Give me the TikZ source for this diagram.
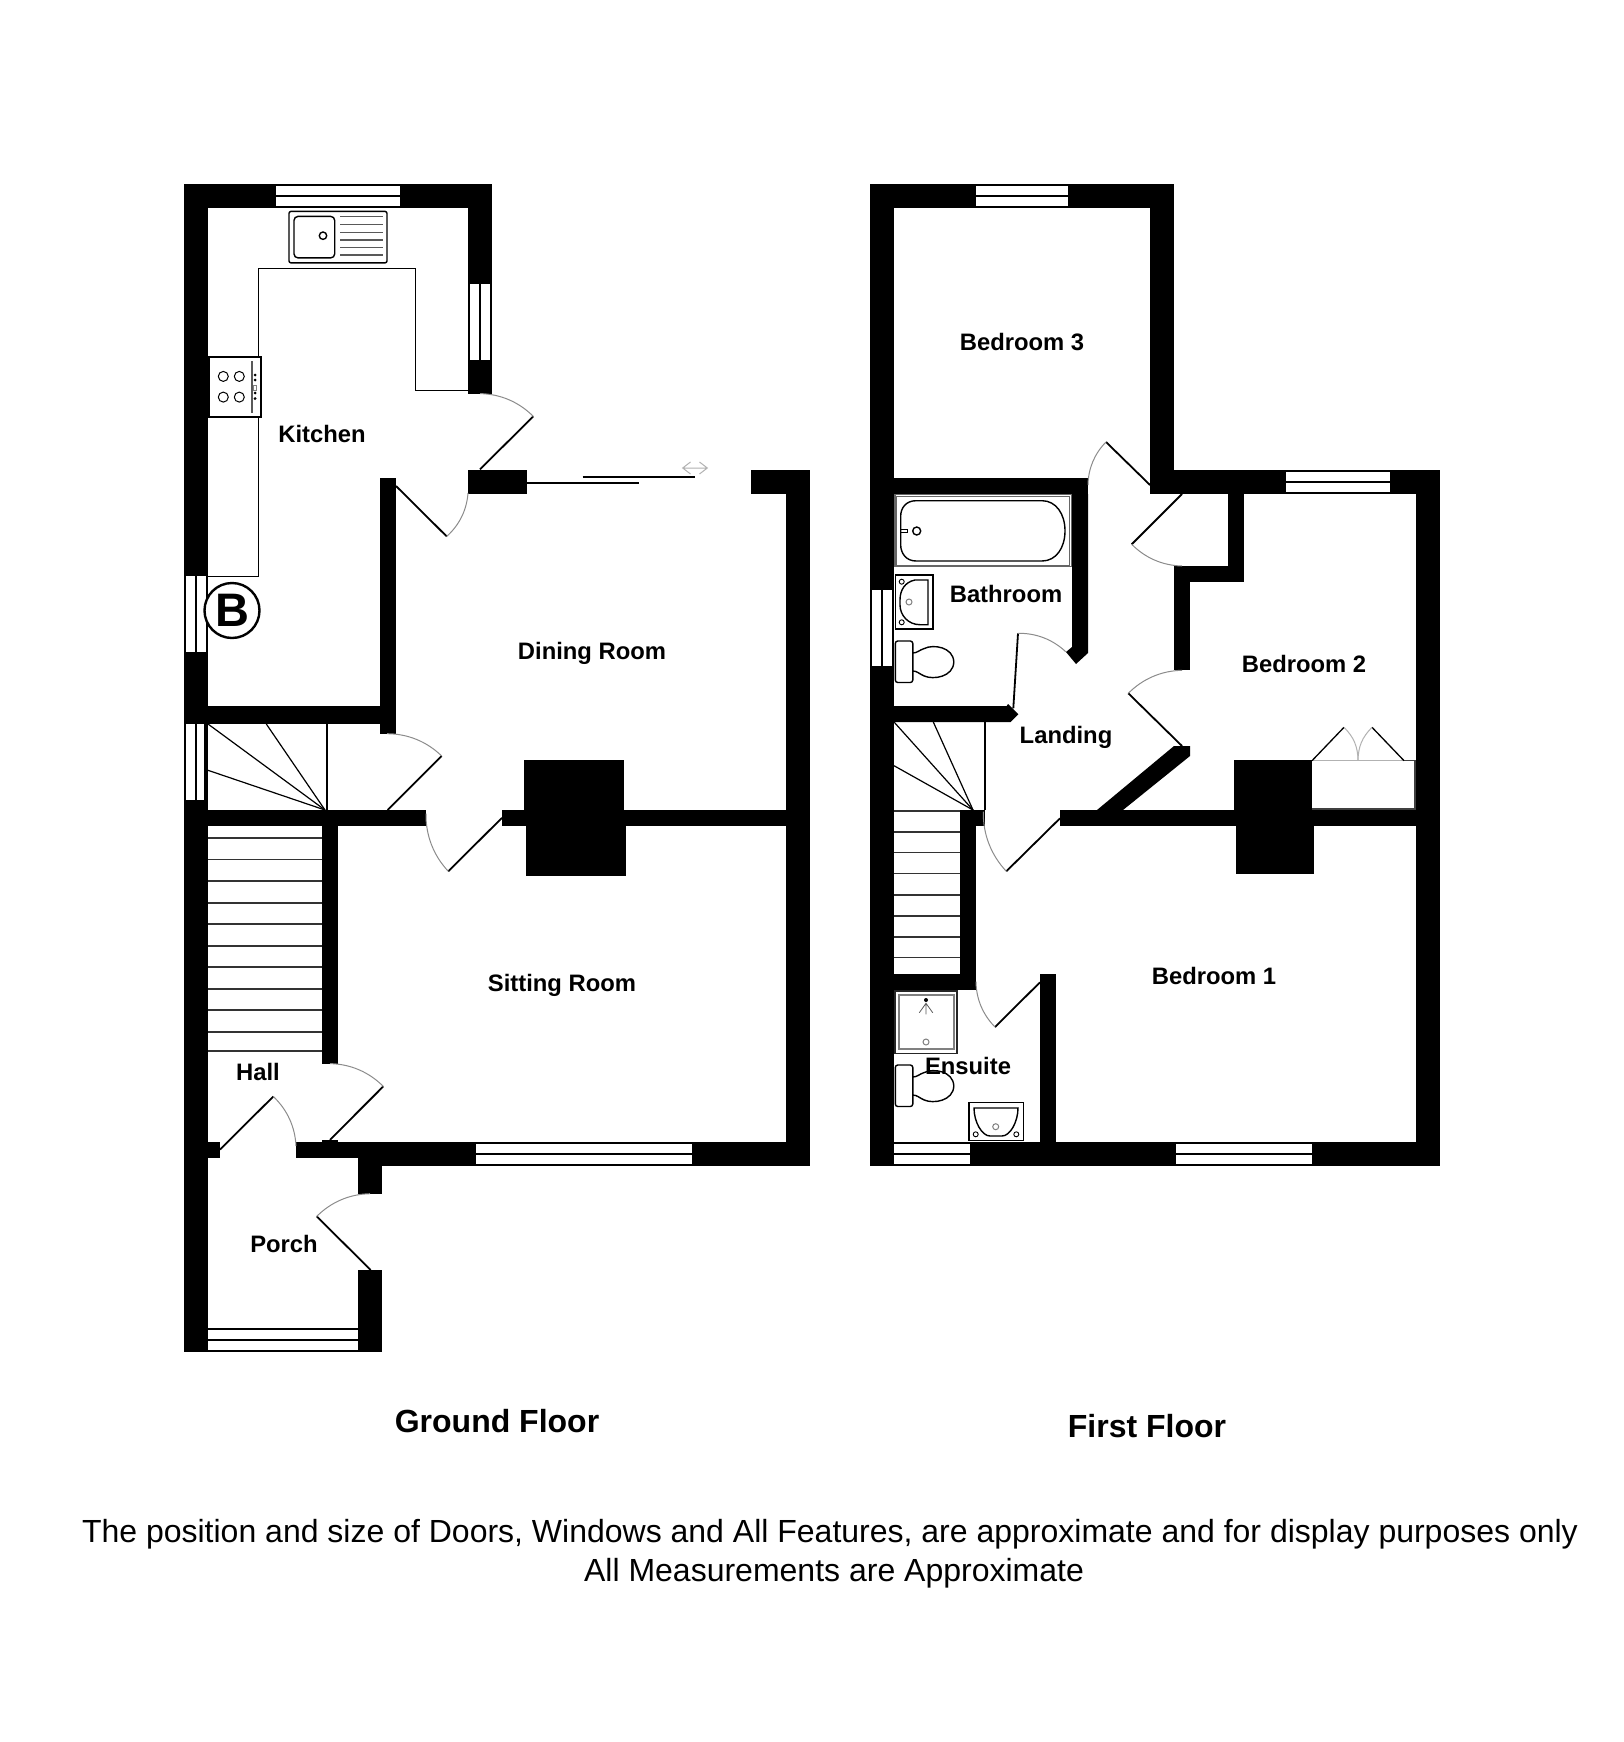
\documentclass[tikz,border=0pt]{standalone}
\usepackage{fontspec}
\setmainfont{Liberation Sans}
\usetikzlibrary{arrows.meta}
\tikzset{
  wallfill/.style={fill=black,draw=none},
  glass/.style={fill=white,draw=none},
  leaf/.style={draw=black,line width=1.8pt},
  swing/.style={draw=black!45,line width=1pt,looseness=.9},
  fixture/.style={draw=black,line width=1.4pt},
  fixturegrey/.style={draw=black!65,line width=1.2pt},
  fixturelight/.style={draw=black!50,line width=1pt},
  stairline/.style={draw=black!80,line width=1.3pt},
  roomlabel/.style={font=\bfseries\fontsize{23.8}{28}\selectfont,inner sep=0pt},
  floorlabel/.style={font=\bfseries\fontsize{32}{38}\selectfont,inner sep=0pt},
  notelabel/.style={font=\fontsize{32}{38}\selectfont,inner sep=0pt},
}
\newcommand{\wl}[4]{\fill[wallfill] (#1,#2) rectangle (#3,#4);}
\newcommand{\gl}[4]{\fill[glass] (#1,#2) rectangle (#3,#4);}
\newcommand{\hwin}[4]{\gl{#1}{#3}{#2}{#3+9.2}\gl{#1}{#3+11.2}{#2}{#4}}
\newcommand{\vwin}[4]{\gl{#1}{#3}{#1+9.2}{#4}\gl{#1+11}{#3}{#2}{#4}}
% hinge, tip, swing end, bend side
\newcommand{\doorleaf}[4]{\draw[leaf] (#1) -- (#2); \draw[swing] (#2) to[#4=22] (#3);}
\newcommand{\wcpan}[2]{%
  \begin{scope}[shift={(#1,#2)}]
    \draw[fixture,rounded corners=2.5pt,fill=white] (0,0) rectangle (17.5,41.5);
    \draw[fixture] (17.5,12) .. controls (22,12) and (24,9) .. (29,7.5)
       .. controls (38,3) and (58,6) .. (58.5,21)
       .. controls (58,36) and (38,39) .. (29,35)
       .. controls (24,33) and (22,30) .. (17.5,30);
  \end{scope}}
\begin{document}
\begin{tikzpicture}[x=1pt,y=-1pt]
\useasboundingbox (0,0) rectangle (1624,1742);
\fill[white] (0,0) rectangle (1624,1742);

%% ---------- GROUND FLOOR walls
\wl{184}{184.3}{492}{207.9}
\wl{184}{184.3}{208}{1352}
\wl{468}{184.3}{492}{393.6}
\wl{208}{706}{395.7}{724}
\wl{380}{478}{395.7}{733.7}
\wl{468}{470}{527}{493.6}
\wl{750.7}{470}{810}{494}
\wl{786}{470}{810}{1165.5}
\wl{208}{810}{426}{826}
\wl{502}{810}{810}{826}
\wl{524}{760}{624}{811}
\wl{526}{825}{626}{876}
\wl{322}{810}{337.7}{1063.6}
\wl{322}{1139.8}{337.7}{1143}
\wl{208}{1142}{220}{1157.5}
\wl{296}{1142}{358}{1157.5}
\wl{358}{1142}{810}{1165.5}
\wl{358}{1142}{382}{1193.7}
\wl{358}{1270}{382}{1352}
\wl{208}{1327.5}{358}{1352}

%% ground windows
\hwin{276}{400}{185.7}{206.4}
\vwin{470}{490}{283.6}{360}
\vwin{186}{206}{575.7}{652}
\vwin{186}{204}{724}{800}
\hwin{476}{692}{1143.6}{1164.3}
\hwin{208}{358}{1329.8}{1350.4}

%% ground stairs
\foreach \yy in {838,859.5,881,903,924,946,967,989,1010,1032,1051}{\draw[stairline] (208,\yy) -- (322,\yy);}
\draw[fixture,line width=2pt] (326.7,724) -- (326.7,810);
\draw[fixture,line width=1.2pt] (325,810) -- (208,724);
\draw[fixture,line width=1.2pt] (325,810) -- (266.3,724);
\draw[fixture,line width=1.2pt] (325,810) -- (208,770.3);

%% ground doors
\doorleaf{480,469.3}{533.3,416.4}{480,393.6}{bend right}
\doorleaf{396,486}{446.7,536.4}{468,493}{bend right}
\doorleaf{387.7,810}{441.7,756}{387,733.7}{bend right}
\doorleaf{502,817.8}{448.3,871.3}{426,813.6}{bend left}
\doorleaf{330,1139.8}{383.3,1086.4}{330,1063.6}{bend right}
\doorleaf{220,1149.5}{273.3,1096.5}{296,1146}{bend left}
\doorleaf{370.7,1270}{316.7,1216.4}{370,1193.7}{bend left}

%% sliding door
\draw[leaf] (527,483) -- (639,483);
\draw[leaf] (582.7,476.7) -- (695,476.7);
\draw[draw=black!30,line width=1pt] (682.7,468) -- (707.3,468)
  (690.5,462) -- (682.7,468) -- (690.5,474) (699.5,462) -- (707.3,468) -- (699.5,474);

%% kitchen units
\draw[fixture] (468,390.7) -- (415.3,390.7) -- (415.3,268.6) -- (258.7,268.6) -- (258.7,576.4) -- (208,576.4);
\draw[fixture,rounded corners=2pt,fill=white] (289,211.4) rectangle (387,262.9);
\draw[fixture,rounded corners=4pt] (294,216.4) rectangle (334.7,257.9);
\draw[fixture] (323,235.7) circle (3.7);
\foreach \yy in {216.4,224.3,232.1,240,247.5,255}{\draw[fixturegrey] (340.3,\yy) -- (383,\yy);}
\draw[fixture,fill=white] (209,356.8) rectangle (261,416.8);
\foreach \xx/\yy in {223.3/376.4,239.3/376.4,223.3/397.1,239.3/397.1}{\draw[fixture,line width=1pt] (\xx,\yy) circle (5);}
\draw[fixturegrey] (252,361) -- (252,412.9);
\foreach \yy in {375,380,393,398.5}{\fill (255,\yy) circle (1.5);}
\draw[fixturelight] (253.5,385) rectangle (256.5,390);

%% boiler
\node[draw=black,line width=2.4pt,fill=white,circle,minimum size=55pt,inner sep=0pt,font=\bfseries\fontsize{47}{50}\selectfont] (boiler) at (232,610.5) {B};

%% ---------- FIRST FLOOR walls
\wl{870}{184.4}{1174}{207.7}
\wl{870}{184.4}{894}{1166}
\wl{1150}{184.4}{1174}{494}
\wl{1150}{470}{1440}{494}
\wl{1416}{470}{1440}{1166}
\wl{1228}{494}{1244}{582}
\wl{1174}{566}{1244}{582}
\wl{1174}{566}{1190}{670.3}
\fill[wallfill] (1174,746) -- (1190,746) -- (1190,756) -- (1123,810) -- (1097,810) -- cycle;
\wl{1060}{810}{1416}{826}
\wl{1234}{760}{1312}{811}
\wl{1236}{825}{1314}{874}
\wl{894}{478}{1088}{494}
\fill[wallfill] (1072,494) -- (1088,494) -- (1088,653) -- (1076,664) -- (1066,652) -- (1072,647) -- cycle;
\fill[wallfill] (894,706) -- (1006.7,706) -- (1008,704) -- (1018.3,714.3) -- (1010.7,722) -- (894,722) -- cycle;
\wl{960}{810}{976}{990}
\wl{960}{810}{985}{826}
\wl{894}{974}{976}{990}
\wl{1040}{974}{1056}{1143}
\wl{870}{1142}{1440}{1166}

%% first windows
\hwin{976}{1068}{186}{206.4}
\hwin{1286}{1390}{472}{492}
\vwin{872}{892}{590}{666}
\hwin{894}{970}{1144}{1164}
\hwin{1176}{1312}{1144}{1164}

%% first stairs
\foreach \yy in {811,832,852.7,873.7,895,916,937,957.7}{\draw[stairline] (894,\yy) -- (960,\yy);}
\draw[fixture,line width=2pt] (985,722) -- (985,810);
\draw[draw=black,line width=1.2pt] (973,810) -- (894,722);
\draw[draw=black,line width=1.2pt] (973,810) -- (933.3,722);
\draw[draw=black,line width=1.2pt] (973,810) -- (894,765.7);

%% first doors
\doorleaf{1150,485}{1106,442}{1088,485}{bend right}
\doorleaf{1182,494}{1131.7,544.3}{1182,566}{bend right}
\doorleaf{1182,746}{1128.3,693.3}{1182,670.3}{bend left}
\doorleaf{1013.3,708.3}{1018,633.3}{1065.7,651.7}{bend left}
\doorleaf{1060,818.3}{1006.3,871.3}{983.3,811.7}{bend left}
\doorleaf{1040,982.3}{995,1027}{976,981.7}{bend left}

%% wardrobe
\draw[draw=black!75,line width=1.4pt] (1404,760.7) -- (1415,760.7) -- (1415,809) -- (1312,809);
\draw[draw=black!30,line width=1.4pt] (1312,760.7) -- (1404,760.7);
\draw[draw=black,line width=1.3pt] (1312,760.7) -- (1344,727.3);
\draw[draw=black,line width=1.3pt] (1404,760.7) -- (1372,727.3);
\draw[draw=black!30,line width=1pt] (1344,727.3) to[bend left=22] (1358,760.7);
\draw[draw=black!30,line width=1pt] (1372,727.3) to[bend right=22] (1358,760.7);

%% bath
\draw[draw=black!60,line width=1.2pt] (895,494.7) rectangle (1071.3,566.7);
\draw[draw=black!60,line width=1pt] (896.5,496.2) rectangle (1069.8,565.2);
\draw[fixture] (916,500.7) -- (1042,500.7) .. controls (1056,500.7) and (1065,514) .. (1065,530.8)
  .. controls (1065,548) and (1056,561) .. (1042,561) -- (916,561)
  .. controls (906,561) and (900.7,553) .. (900.7,545) -- (900.7,516)
  .. controls (900.7,508) and (906,500.7) .. (916,500.7) -- cycle;
\draw[fixture] (916.7,531) circle (4);
\draw[fixture,line width=.8pt] (900.7,529.5) rectangle (907,532.5);

%% bathroom basin
\draw[fixture] (895.3,575) rectangle (933,629);
\draw[fixture] (928,580) -- (915,580) .. controls (905,582) and (900,590) .. (900,600)
  -- (900,605) .. controls (900,615) and (908,624.7) .. (920,624.7) -- (928,624.7) -- cycle;
\draw[fixture,line width=.9pt] (901.7,581.7) circle (2.5);
\draw[fixture,line width=.9pt] (901.7,622.3) circle (2.5);
\draw[fixturelight] (909,602) circle (3);

%% WCs
\wcpan{895.3}{641}
\wcpan{895.3}{1065}

%% shower
\draw[draw=black!85,line width=1.4pt] (895,991) rectangle (957,1053.3);
\draw[draw=black!50,line width=1.6pt] (899,995) rectangle (953.7,1049);
\fill (926,1000) circle (2);
\draw[draw=black!65,line width=.8pt] (919.3,1012.7) -- (926,1003.3) -- (932.7,1012.7) (926,1003.3) -- (926,1014.3);
\draw[fixturelight] (926,1042) circle (3);

%% ensuite basin
\draw[fixture,fill=white] (969,1102.7) rectangle (1023.3,1140.7);
\draw[fixture] (974,1108) -- (1018,1108) .. controls (1018,1122) and (1010,1136) .. (1002,1136)
  -- (990,1136) .. controls (982,1136) and (974,1122) .. (974,1108) -- cycle;
\draw[fixture,line width=.9pt] (975.7,1134.3) circle (2.5);
\draw[fixture,line width=.9pt] (1016.3,1134.3) circle (2.5);
\draw[fixturelight] (995.7,1126.7) circle (3);

%% ---------- labels
\node[roomlabel] (kitchen) at (322,434) {Kitchen};
\node[roomlabel] (dining) at (592,653) {Dining Room};
\node[roomlabel] (sitting) at (562,985) {Sitting Room};
\node[roomlabel] (hall) at (258,1072) {Hall};
\node[roomlabel] (porch) at (284,1244) {Porch};
\node[roomlabel] (bed3) at (1022,342) {Bedroom 3};
\node[roomlabel] (bath) at (1006,594) {Bathroom};
\node[roomlabel] (bed2) at (1304,664) {Bedroom 2};
\node[roomlabel] (landing) at (1066,737) {Landing};
\node[roomlabel] (bed1) at (1214,976) {Bedroom 1};
\node[roomlabel] (ensuite) at (968,1066) {Ensuite};
\node[floorlabel] (gf) at (497,1421) {Ground Floor};
\node[floorlabel] (ff) at (1147,1426) {First Floor};
\node[notelabel] (note1) at (830,1534) {The position and size of Doors, Windows and All Features, are approximate and for display purposes only};
\node[notelabel] (note2) at (834,1573) {All Measurements are Approximate};
\end{tikzpicture}
\end{document}
